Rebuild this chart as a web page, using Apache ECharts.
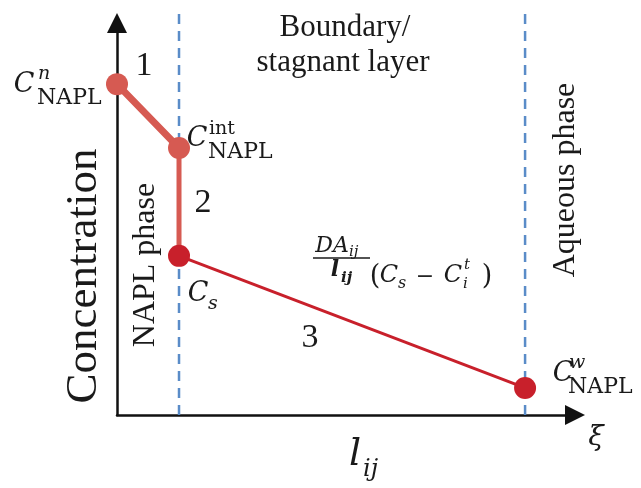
<!DOCTYPE html>
<html>
<head>
<meta charset="utf-8">
<script src="https://cdn.jsdelivr.net/npm/echarts@6/dist/echarts.min.js"></script>
<style>html,body{margin:0;padding:0;background:#fff;}#c{width:641px;height:488px;}</style>
</head>
<body>
<div id="c"></div>
<script>
// position along xi (arbitrary units) and concentration (arbitrary units)
const pointNames = ['C_NAPL^n', 'C_NAPL^int', 'C_s', 'C_NAPL^w'];
const xi = [0, 1.354, 1.354, 8.91];
const conc = [8.44, 6.81, 4.06, 0.69];
const boundaryX = [1.354, 8.91];
const boundaryTop = 10.33;

const lightRed = '#d65a52';
const darkRed = '#c8202b';
const dashBlue = '#5a8cc8';

const chart = echarts.init(document.getElementById('c'), null, {renderer: 'canvas'});

const pt = i => [xi[i], conc[i]];

const series = [];
boundaryX.forEach(bx => {
  series.push({
    type: 'line', data: [[bx, 0], [bx, boundaryTop]], clip: false, symbol: 'none', z: 1,
    lineStyle: {color: dashBlue, width: 2.5, type: [10, 7]}, silent: true
  });
});
series.push({type: 'line', data: [pt(0), pt(1)], symbol: 'none', z: 3,
  lineStyle: {color: lightRed, width: 7, cap: 'round'}});
series.push({type: 'line', data: [pt(1), pt(2)], symbol: 'none', z: 3,
  lineStyle: {color: lightRed, width: 5}});
series.push({type: 'line', data: [pt(2), pt(3)], symbol: 'none', z: 3,
  lineStyle: {color: darkRed, width: 3}});
series.push({type: 'scatter', data: [pt(0), pt(1)], symbolSize: 22, z: 4,
  itemStyle: {color: lightRed, opacity: 1}});
series.push({type: 'scatter', data: [pt(2), pt(3)], symbolSize: 22, z: 4,
  itemStyle: {color: darkRed, opacity: 1}});

const serif = "'Liberation Serif', 'Times New Roman', serif";
const mathf = "'DejaVu Serif', serif";
function T(text, x, y, size, opts) {
  opts = opts || {};
  return {
    type: 'text', x: x, y: y, rotation: opts.rot || 0, z: 10,
    style: {
      text: text,
      font: (opts.italic ? 'italic ' : '') + (opts.bold ? 'bold ' : '') + size + 'px ' + (opts.math ? mathf : serif),
      fill: '#1a1a1a',
      align: opts.align || 'center',
      verticalAlign: 'middle'
    }
  };
}
const M = (t, x, y, s, o) => T(t, x, y, s, Object.assign({math: true}, o || {}));

const graphics = [
  // C^n_NAPL
  M('C', 24, 85, 27, {italic: true}),
  M('n', 38, 74, 19, {italic: true, align: 'left'}),
  M('NAPL', 37, 98, 22, {align: 'left'}),
  // C^int_NAPL
  M('C', 197, 139, 27, {italic: true}),
  M('int', 209, 129, 19, {align: 'left'}),
  M('NAPL', 208, 152, 22, {align: 'left'}),
  // C_s
  M('C', 198, 294, 27, {italic: true}),
  M('s', 208, 304, 19, {italic: true, align: 'left'}),
  // C^w_NAPL
  M('C', 563, 374, 27, {italic: true}),
  M('w', 569, 363, 19, {italic: true, align: 'left'}),
  M('NAPL', 568, 387, 22, {align: 'left'}),
  // formula
  M('DA', 332, 246, 22, {italic: true}),
  M('ij', 349, 252, 15, {italic: true, align: 'left'}),
  {type: 'line', z: 10, shape: {x1: 313, y1: 258, x2: 370, y2: 258}, style: {stroke: '#1a1a1a', lineWidth: 1.5}},
  M('l', 335, 270, 22, {italic: true, bold: true}),
  M('ij', 341, 278, 15, {italic: true, bold: true, align: 'left'}),
  M('(', 375, 277, 27),
  M('C', 389, 276, 24, {italic: true}),
  M('s', 398, 284, 16, {italic: true, align: 'left'}),
  M('\u2212', 425, 277, 22),
  M('C', 453, 276, 24, {italic: true}),
  M('t', 464, 265, 15, {italic: true, align: 'left'}),
  M('i', 463, 284, 15, {italic: true, align: 'left'}),
  M(')', 487, 277, 27),
  // segment numbers
  T('1', 144, 66, 34),
  T('2', 203, 203, 34),
  T('3', 310, 338, 34),
  // region labels
  T('Boundary/', 345, 28, 31),
  T('stagnant layer', 343, 63, 31),
  T('NAPL phase', 146, 265, 32, {rot: Math.PI / 2}),
  T('Aqueous phase', 566, 180, 32, {rot: Math.PI / 2}),
  // axis names
  T('Concentration', 84, 276, 45, {rot: Math.PI / 2}),
  M('l', 355, 455, 38, {italic: true}),
  M('ij', 363, 470, 24, {italic: true, align: 'left'}),
  M('\u03BE', 596, 438, 28, {italic: true})
];

chart.setOption({
  animation: false,
  backgroundColor: '#fff',
  grid: {left: 117, right: 66, top: 23, bottom: 73},
  xAxis: {
    type: 'value', min: 0, max: 10,
    axisLine: {show: true, onZero: false, symbol: ['none', 'triangle'], symbolSize: [20, 20],
      lineStyle: {color: '#111', width: 2.5}},
    axisTick: {show: false}, axisLabel: {show: false}, splitLine: {show: false}
  },
  yAxis: {
    type: 'value', min: 0, max: 10,
    axisLine: {show: true, onZero: false, symbol: ['none', 'triangle'], symbolSize: [20, 20],
      lineStyle: {color: '#111', width: 2.5}},
    axisTick: {show: false}, axisLabel: {show: false}, splitLine: {show: false}
  },
  series: series,
  graphic: graphics
});
</script>
</body>
</html>
